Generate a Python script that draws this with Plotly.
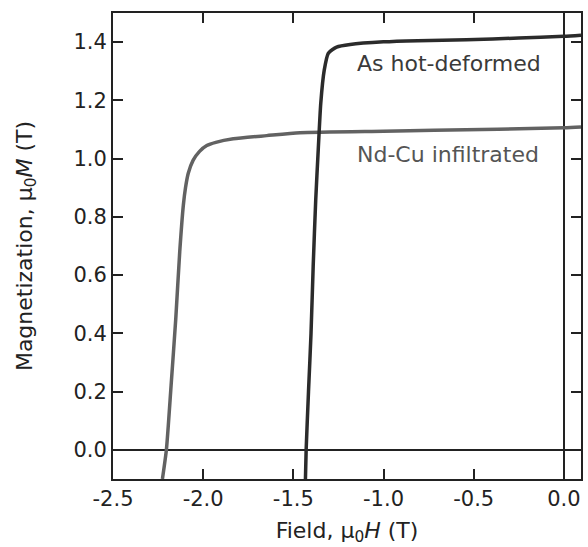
import plotly.graph_objects as go

# Demagnetization curves (second quadrant), field in T, magnetization in T
field_hot = [0.095, 0.0, -0.25, -0.54, -0.81, -1.0, -1.185, -1.26, -1.306, -1.329,
             -1.348, -1.362, -1.376, -1.39, -1.402, -1.416, -1.429, -1.433]
mag_hot = [1.424, 1.420, 1.414, 1.408, 1.405, 1.401, 1.392, 1.383, 1.362, 1.303,
           1.19, 1.03, 0.857, 0.63, 0.40, 0.2, 0.0, -0.1]

field_ndcu = [0.095, 0.0, -0.72, -1.0, -1.463, -1.648, -1.833, -1.93, -1.98, -2.02,
              -2.056, -2.083, -2.098, -2.11, -2.13, -2.152, -2.178, -2.204, -2.226]
mag_ndcu = [1.109, 1.106, 1.097, 1.094, 1.089, 1.079, 1.068, 1.056, 1.045, 1.025,
            0.994, 0.949, 0.90, 0.84, 0.68, 0.45, 0.22, 0.0, -0.1]

x_ticks = [-2.5, -2.0, -1.5, -1.0, -0.5, 0.0]
y_ticks = [0.0, 0.2, 0.4, 0.6, 0.8, 1.0, 1.2, 1.4]

FONT = "DejaVu Sans, Verdana, sans-serif"
INK = "#222222"

fig = go.Figure()
fig.add_trace(go.Scatter(x=field_ndcu, y=mag_ndcu, mode="lines",
                         line=dict(color="#626262", width=3.5, shape="spline", smoothing=0.6),
                         name="Nd-Cu infiltrated", showlegend=False))
fig.add_trace(go.Scatter(x=field_hot, y=mag_hot, mode="lines",
                         line=dict(color="#2b2b2b", width=3.5, shape="spline", smoothing=0.6),
                         name="As hot-deformed", showlegend=False))

fig.add_annotation(x=-1.16, y=1.327, text="As hot-deformed", showarrow=False,
                   xanchor="left", yanchor="middle",
                   font=dict(family=FONT, size=22, color="#3a3a3a"))
fig.add_annotation(x=-1.16, y=1.015, text="Nd-Cu infiltrated", showarrow=False,
                   xanchor="left", yanchor="middle",
                   font=dict(family=FONT, size=22, color="#555555"))

axis_common = dict(
    showline=True, linecolor=INK, linewidth=2, mirror="ticks",
    ticks="inside", ticklen=10, tickwidth=2, tickcolor=INK,
    showgrid=False, zeroline=True, zerolinecolor=INK, zerolinewidth=2,
    tickfont=dict(family=FONT, size=21, color=INK),
)

fig.update_xaxes(range=[-2.5, 0.095], tickvals=x_ticks,
                 ticktext=[f"{v:.1f}" for v in x_ticks],
                 title=dict(text="Field, μ<sub>0</sub><i>H</i> (T)", standoff=12,
                            font=dict(family=FONT, size=22, color=INK)),
                 **axis_common)
fig.update_yaxes(range=[-0.1, 1.5], tickvals=y_ticks,
                 ticktext=[f"{v:.1f}" for v in y_ticks],
                 title=dict(text="Magnetization, μ<sub>0</sub><i>M</i> (T)", standoff=35,
                            font=dict(family=FONT, size=22, color=INK)),
                 **axis_common)

fig.update_layout(
    width=588, height=547,
    margin=dict(l=113, r=7, t=13, b=68, autoexpand=False),
    plot_bgcolor="white", paper_bgcolor="white",
)

fig.write_html("out.html")
